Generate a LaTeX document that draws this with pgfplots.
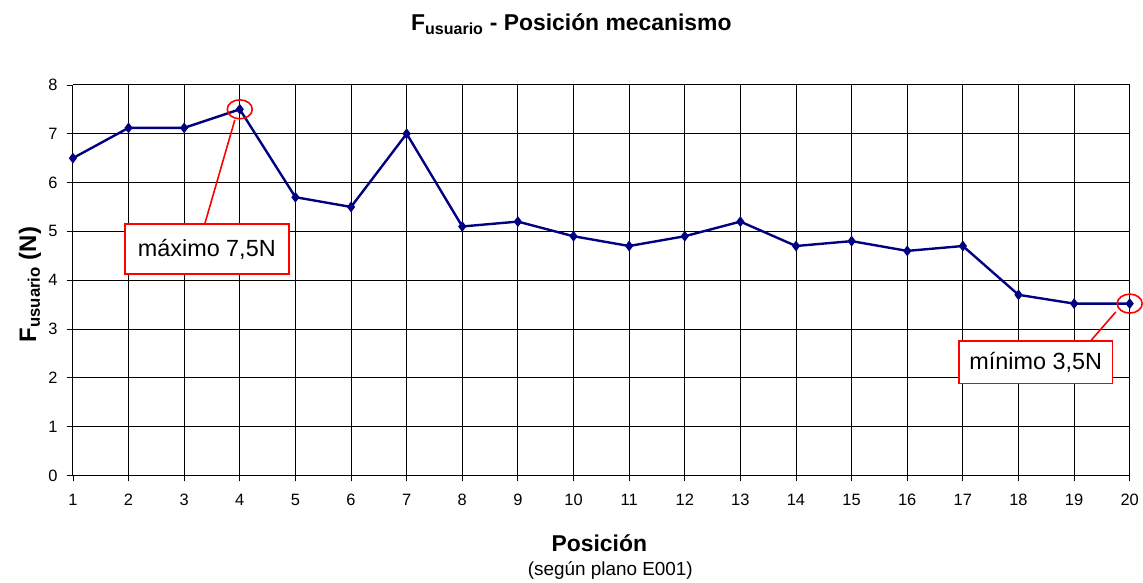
\documentclass[border=0pt]{standalone}
\usepackage{fontspec}
\setmainfont{Liberation Sans}
\usepackage{pgfplots}
\pgfplotsset{compat=1.18}
\definecolor{navyline}{RGB}{0,0,128}
\begin{document}
\begin{tikzpicture}
\begin{axis}[
  scale only axis, width=1058bp, height=391bp,
  xmin=1, xmax=20, ymin=0, ymax=8,
  xtick={1,...,20}, ytick={0,...,8},
  grid=major, major grid style={black, line width=0.9pt},
  axis line style={black, line width=1pt},
  tick style={black, line width=0.8pt},
  tick align=outside, major tick length=6bp,
  axis x line*=bottom, axis y line*=left,
  ticklabel style={font=\fontsize{16.5}{16.5}\selectfont},
  xticklabel style={yshift=-9bp},
  yticklabel style={xshift=-6bp},
  /pgf/number format/assume math mode=true,
  clip=false,
]
\addplot[navyline, line width=2.4pt, mark=diamond*, mark size=3.5pt, mark options={solid, fill=navyline}] coordinates {
(1,6.5) (2,7.12) (3,7.12) (4,7.5) (5,5.7) (6,5.5) (7,7.0) (8,5.1) (9,5.2) (10,4.9)
(11,4.7) (12,4.9) (13,5.2) (14,4.7) (15,4.8) (16,4.6) (17,4.7) (18,3.7) (19,3.52) (20,3.52)
};
\draw[red, line width=1.6pt] (axis cs:3.91,7.28) -- (axis cs:3.37,5.15);
\draw[red, line width=1.6pt] (axis cs:19.75,3.35) -- (axis cs:19.30,2.76);
\draw[red, line width=1.6pt] (axis cs:4,7.5) ellipse [x radius=12.5bp, y radius=9.5bp];
\draw[red, line width=1.6pt] (axis cs:20,3.52) ellipse [x radius=12.5bp, y radius=9.5bp];
\node[draw=red, line width=1.6pt, fill=white, minimum width=164bp, minimum height=50bp, inner sep=0pt,
  font=\fontsize{23.5}{23.5}\selectfont] at (axis cs:3.407,4.64) {máximo 7,5N};
\node[draw=red, line width=1.6pt, fill=white, minimum width=154bp, minimum height=43bp, inner sep=0pt,
  font=\fontsize{23.5}{23.5}\selectfont] at (axis cs:18.31,2.32) {mínimo 3,5N};
\end{axis}
\coordinate (O) at (current axis.south west);
\path (O) ++(-73bp,-103bp) rectangle ++(1143bp,579bp);
\node[font=\bfseries\fontsize{23}{23}\selectfont] at ([shift={(499bp,452bp)}]O) {F\textsubscript{usuario} - Posición mecanismo};
\node[font=\bfseries\fontsize{23}{23}\selectfont] at ([shift={(527bp,-68bp)}]O) {Posición};
\node[font=\fontsize{19}{19}\selectfont] at ([shift={(538bp,-95bp)}]O) {(según plano E001)};
\node[rotate=90, font=\bfseries\fontsize{24}{24}\selectfont] at ([shift={(-43bp,191bp)}]O) {F\textsubscript{usuario} (N)};
\end{tikzpicture}
\end{document}
